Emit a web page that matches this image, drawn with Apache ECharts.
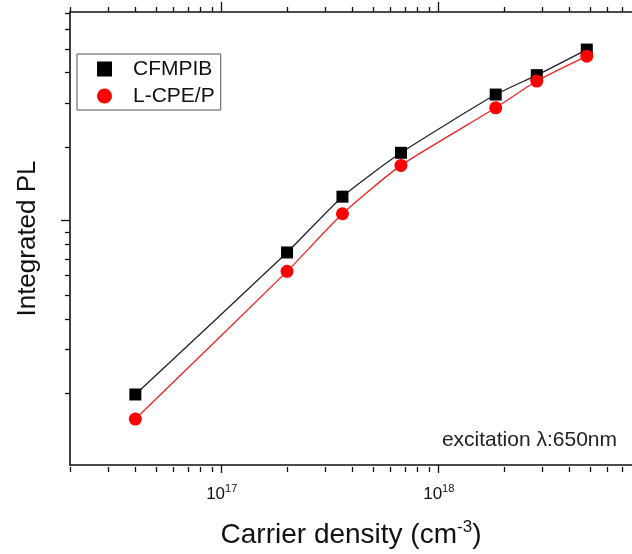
<!DOCTYPE html>
<html><head><meta charset="utf-8">
<script src="https://cdn.jsdelivr.net/npm/echarts@6/dist/echarts.min.js"></script>
<style>html,body{margin:0;padding:0;background:#fff}#c{width:632px;height:554px}</style>
</head><body><div id="c"></div>
<script>
// ---- data ----
const carrierDensity = [4.0e16, 2.0e17, 3.6e17, 6.7e17, 1.83e18, 2.83e18, 4.81e18];
const cfmpibPL = [1.94, 7.37, 12.45, 18.8, 32.5, 39.0, 49.6];
const lcpePL   = [1.54, 6.17, 10.6, 16.7, 28.7, 36.9, 46.6];
const seriesNames = ['CFMPIB', 'L-CPE/P'];
const xMajorTicks = [1e17, 1e18];
const xMinorTicks = [2e16,3e16,4e16,5e16,6e16,7e16,8e16,9e16,
                     2e17,3e17,4e17,5e17,6e17,7e17,8e17,9e17,
                     2e18,3e18,4e18,5e18,6e18,7e18];
const yMajorTicks = [10];
const yMinorTicks = [2,3,4,5,6,7,8,9,20,30,40,50,60,70];
const xRange = [2e16, 7.77e18];
const yRange = [1, 70.6];
const xTitle = '{a|Carrier density (cm}{s|-3}{a|)}';
const yTitle = 'Integrated PL';
const note = 'excitation λ:650nm';

const FONT = '"Liberation Sans", Arial, sans-serif';
const AX = '#111';
const gridBox = {left: 70, right: 0, top: 12, bottom: 87};

function xAx(gridIndex, position, ticks, len, opts) {
  return Object.assign({
    type: 'log', logBase: 10, gridIndex, position,
    min: xRange[0], max: xRange[1],
    splitLine: {show: false}, minorTick: {show: false},
    axisLine: {show: gridIndex === 0, lineStyle: {color: AX, width: 1.6}},
    axisTick: {show: true, inside: false, length: len, customValues: ticks, lineStyle: {color: AX, width: 1.3}},
    axisLabel: {show: false}
  }, opts || {});
}
function yAx(gridIndex, ticks, len, opts) {
  return Object.assign({
    type: 'log', logBase: 10, gridIndex, position: 'left',
    min: yRange[0], max: yRange[1],
    splitLine: {show: false}, minorTick: {show: false},
    axisLine: {show: gridIndex === 0, lineStyle: {color: AX, width: 1.6}},
    axisTick: {show: true, inside: false, length: len, customValues: ticks, lineStyle: {color: AX, width: 1.3}},
    axisLabel: {show: false}
  }, opts || {});
}

const chart = echarts.init(document.getElementById('c'), null, {renderer: 'canvas'});
chart.setOption({
  animation: false,
  backgroundColor: '#fff',
  textStyle: {fontFamily: FONT},
  grid: [Object.assign({}, gridBox), Object.assign({}, gridBox)],
  xAxis: [
    xAx(0, 'bottom', xMajorTicks, 8, {
      axisLabel: {show: true, customValues: xMajorTicks, margin: 14,
        formatter: v => '{b|10}{s|' + Math.round(Math.log10(v)) + '}',
        rich: {
          b: {fontSize: 17, fontFamily: FONT, color: '#111', lineHeight: 24, verticalAlign: 'bottom'},
          s: {fontSize: 11, fontFamily: FONT, color: '#111', lineHeight: 24, verticalAlign: 'bottom', padding: [0, 0, 9, 0]}
        }},
      name: xTitle, nameLocation: 'middle', nameGap: 48,
      nameTextStyle: {rich: {
        a: {fontSize: 28, fontFamily: FONT, color: '#111', lineHeight: 36, verticalAlign: 'bottom'},
        s: {fontSize: 17, fontFamily: FONT, color: '#111', lineHeight: 36, verticalAlign: 'bottom', padding: [0, 0, 13, 0]}
      }}
    }),
    xAx(0, 'top', xMajorTicks, 10),
    xAx(1, 'bottom', xMinorTicks, 5),
    xAx(1, 'top', xMinorTicks, 5)
  ],
  yAxis: [
    yAx(0, yMajorTicks, 9, {
      name: yTitle, nameLocation: 'middle', nameGap: 29, nameRotate: 90,
      nameTextStyle: {fontSize: 26, fontFamily: FONT, color: '#111'}
    }),
    yAx(1, yMinorTicks, 5)
  ],
  legend: {
    left: 77, top: 54, orient: 'vertical',
    data: [{name: seriesNames[0], icon: 'rect'}, {name: seriesNames[1], icon: 'circle'}],
    itemWidth: 15, itemHeight: 15, itemGap: 5,
    padding: [4, 6, 3, 20],
    borderColor: '#555', borderWidth: 1,
    lineStyle: {opacity: 0},
    textStyle: {fontSize: 21, fontFamily: FONT, color: '#111', lineHeight: 22, padding: [0, 0, 0, 16]},
    selectedMode: false
  },
  graphic: [{
    type: 'text', right: 15, top: 430,
    style: {text: note, font: '21px ' + FONT, fill: '#222'}
  }],
  series: [
    {
      name: seriesNames[0], type: 'line', xAxisIndex: 0, yAxisIndex: 0,
      data: carrierDensity.map((x, i) => [x, cfmpibPL[i]]),
      smooth: 0.2, symbol: 'rect', symbolSize: 12,
      itemStyle: {color: '#000'}, lineStyle: {color: '#222', width: 1.3},
      z: 3
    },
    {
      name: seriesNames[1], type: 'line', xAxisIndex: 0, yAxisIndex: 0,
      data: carrierDensity.map((x, i) => [x, lcpePL[i]]),
      smooth: 0.2, symbol: 'circle', symbolSize: 13,
      itemStyle: {color: '#ff0000'}, lineStyle: {color: '#ee2222', width: 1.3},
      z: 4
    }
  ]
});
</script>
</body></html>
